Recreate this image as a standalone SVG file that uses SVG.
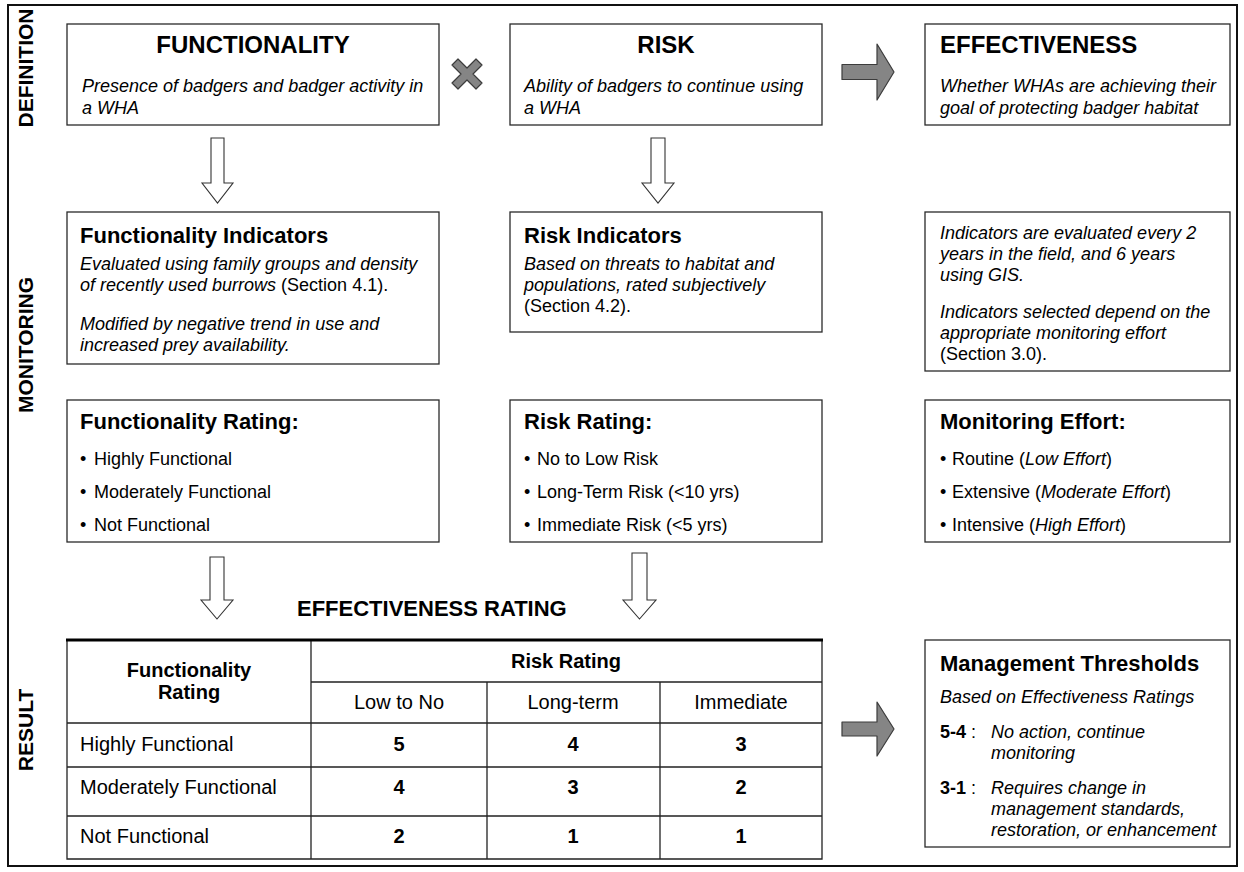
<svg xmlns="http://www.w3.org/2000/svg" width="1244" height="872" viewBox="0 0 1244 872">
<style>
text{font-family:"Liberation Sans",Arial,Helvetica,sans-serif;fill:#000}
.side{font-size:21px;font-weight:bold;text-anchor:middle}
.big{font-size:24px;font-weight:bold}
.h{font-size:22px;font-weight:bold}
.it{font-size:18px;font-style:italic}
.rg{font-size:18px}
.tb{font-size:20px}
.tbb{font-size:20px;font-weight:bold}
.c{text-anchor:middle}
.box{fill:#fff;stroke:#2a2a2a;stroke-width:1.3}
.hollow{fill:#fff;stroke:#333;stroke-width:1.1}
.gray{fill:#858585;stroke:#3c3c3c;stroke-width:1.2;stroke-linejoin:round}
.tl{stroke:#222;stroke-width:1.3;fill:none}
</style>
<rect x="0" y="0" width="1244" height="872" fill="#fff"/>
<rect x="8" y="5" width="1229" height="861" fill="none" stroke="#111" stroke-width="2"/>

<g id="labels">
<text class="side" transform="translate(33,68) rotate(-90)">DEFINITION</text>
<text class="side" transform="translate(33,345) rotate(-90)">MONITORING</text>
<text class="side" transform="translate(33,730) rotate(-90)">RESULT</text>
</g>

<g id="connectors">
<path class="hollow" d="M211,138 H224 V183 H233 L217.5,203 L202,183 H211 Z"/>
<path class="hollow" d="M651,138 H665 V183 H674 L658,203 L642,183 H651 Z"/>
<path class="hollow" d="M210,557 H224 V600 H233 L217,619 L201,600 H210 Z"/>
<path class="hollow" d="M632,553 H647 V600 H656 L639.5,619 L623,600 H632 Z"/>
<path class="gray" d="M842,64.5 H877 V44 L894,72 L877,100 V79.5 H842 Z"/>
<path class="gray" d="M842,722 H877 V702 L894,729 L877,756 V736 H842 Z"/>
<path class="gray" transform="translate(467,74)" d="M-15,-9 L-9,-15 L0,-6 L9,-15 L15,-9 L6,0 L15,9 L9,15 L0,6 L-9,15 L-15,9 L-6,0 Z"/>
</g>

<g id="functionality">
<rect class="box" x="67" y="24" width="372" height="101"/>
<text class="big c" x="253" y="53">FUNCTIONALITY</text>
<text class="it" x="82" y="92">Presence of badgers and badger activity in</text>
<text class="it" x="82" y="114">a WHA</text>
</g>

<g id="risk">
<rect class="box" x="510" y="24" width="312" height="101"/>
<text class="big c" x="666" y="53">RISK</text>
<text class="it" x="524" y="92">Ability of badgers to continue using</text>
<text class="it" x="524" y="114">a WHA</text>
</g>

<g id="effectiveness">
<rect class="box" x="925" y="24" width="305" height="101"/>
<text class="big" x="940" y="53">EFFECTIVENESS</text>
<text class="it" x="940" y="92">Whether WHAs are achieving their</text>
<text class="it" x="940" y="114">goal of protecting badger habitat</text>
</g>

<g id="functionality-indicators">
<rect class="box" x="67" y="212" width="372" height="152"/>
<text class="h" x="80" y="243">Functionality Indicators</text>
<text class="it" x="80" y="270">Evaluated using family groups and density</text>
<text class="it" x="80" y="291">of recently used burrows <tspan font-style="normal">(Section 4.1).</tspan></text>
<text class="it" x="80" y="330">Modified by negative trend in use and</text>
<text class="it" x="80" y="351">increased prey availability.</text>
</g>

<g id="risk-indicators">
<rect class="box" x="510" y="212" width="312" height="120"/>
<text class="h" x="524" y="243">Risk Indicators</text>
<text class="it" x="524" y="270">Based on threats to habitat and</text>
<text class="it" x="524" y="291">populations, rated subjectively</text>
<text class="rg" x="524" y="312">(Section 4.2).</text>
</g>

<g id="monitoring-notes">
<rect class="box" x="925" y="212" width="305" height="159"/>
<text class="it" x="940" y="239">Indicators are evaluated every 2</text>
<text class="it" x="940" y="260">years in the field, and 6 years</text>
<text class="it" x="940" y="281">using GIS.</text>
<text class="it" x="940" y="318">Indicators selected depend on the</text>
<text class="it" x="940" y="339">appropriate monitoring effort</text>
<text class="rg" x="940" y="360">(Section 3.0).</text>
</g>

<g id="functionality-rating">
<rect class="box" x="67" y="400" width="372" height="142"/>
<text class="h" x="80" y="429">Functionality Rating:</text>
<text class="rg" x="80" y="465">•</text><text class="rg" x="94" y="465">Highly Functional</text>
<text class="rg" x="80" y="498">•</text><text class="rg" x="94" y="498">Moderately Functional</text>
<text class="rg" x="80" y="531">•</text><text class="rg" x="94" y="531">Not Functional</text>
</g>

<g id="risk-rating">
<rect class="box" x="510" y="400" width="312" height="142"/>
<text class="h" x="524" y="429">Risk Rating:</text>
<text class="rg" x="524" y="465">•</text><text class="rg" x="537" y="465">No to Low Risk</text>
<text class="rg" x="524" y="498">•</text><text class="rg" x="537" y="498">Long-Term Risk (&lt;10 yrs)</text>
<text class="rg" x="524" y="531">•</text><text class="rg" x="537" y="531">Immediate Risk (&lt;5 yrs)</text>
</g>

<g id="monitoring-effort">
<rect class="box" x="925" y="400" width="305" height="142"/>
<text class="h" x="940" y="429">Monitoring Effort:</text>
<text class="rg" x="940" y="465">•</text><text class="rg" x="952" y="465">Routine (<tspan font-style="italic">Low Effort</tspan>)</text>
<text class="rg" x="940" y="498">•</text><text class="rg" x="952" y="498">Extensive (<tspan font-style="italic">Moderate Effort</tspan>)</text>
<text class="rg" x="940" y="531">•</text><text class="rg" x="952" y="531">Intensive (<tspan font-style="italic">High Effort</tspan>)</text>
</g>

<g id="effectiveness-rating">
<text class="h" x="297" y="616">EFFECTIVENESS RATING</text>
<rect x="67" y="640" width="755" height="219" fill="#fff" stroke="none"/>
<path class="tl" d="M67,640 V859 H822 V640 M311,640 V859 M487,682 V859 M660,682 V859 M311,682 H822 M67,723 H822 M67,767 H822 M67,816 H822"/>
<path d="M66,640 H823" stroke="#000" stroke-width="3"/>
<text class="tbb c" x="189" y="677">Functionality</text>
<text class="tbb c" x="189" y="699">Rating</text>
<text class="tbb c" x="566" y="668">Risk Rating</text>
<text class="tb c" x="399" y="709">Low to No</text>
<text class="tb c" x="573" y="709">Long-term</text>
<text class="tb c" x="741" y="709">Immediate</text>
<text class="tb" x="80" y="751">Highly Functional</text>
<text class="tb" x="80" y="794">Moderately Functional</text>
<text class="tb" x="80" y="843">Not Functional</text>
<text class="tbb c" x="399" y="751">5</text><text class="tbb c" x="573" y="751">4</text><text class="tbb c" x="741" y="751">3</text>
<text class="tbb c" x="399" y="794">4</text><text class="tbb c" x="573" y="794">3</text><text class="tbb c" x="741" y="794">2</text>
<text class="tbb c" x="399" y="843">2</text><text class="tbb c" x="573" y="843">1</text><text class="tbb c" x="741" y="843">1</text>
</g>

<g id="management-thresholds">
<rect class="box" x="925" y="640" width="305" height="207"/>
<text class="h" x="940" y="671">Management Thresholds</text>
<text class="it" x="940" y="703">Based on Effectiveness Ratings</text>
<text class="rg" x="940" y="738"><tspan font-weight="bold">5-4</tspan> :</text>
<text class="it" x="991" y="738">No action, continue</text>
<text class="it" x="991" y="759">monitoring</text>
<text class="rg" x="940" y="794"><tspan font-weight="bold">3-1</tspan> :</text>
<text class="it" x="991" y="794">Requires change in</text>
<text class="it" x="991" y="815">management standards,</text>
<text class="it" x="991" y="836">restoration, or enhancement</text>
</g>
</svg>
